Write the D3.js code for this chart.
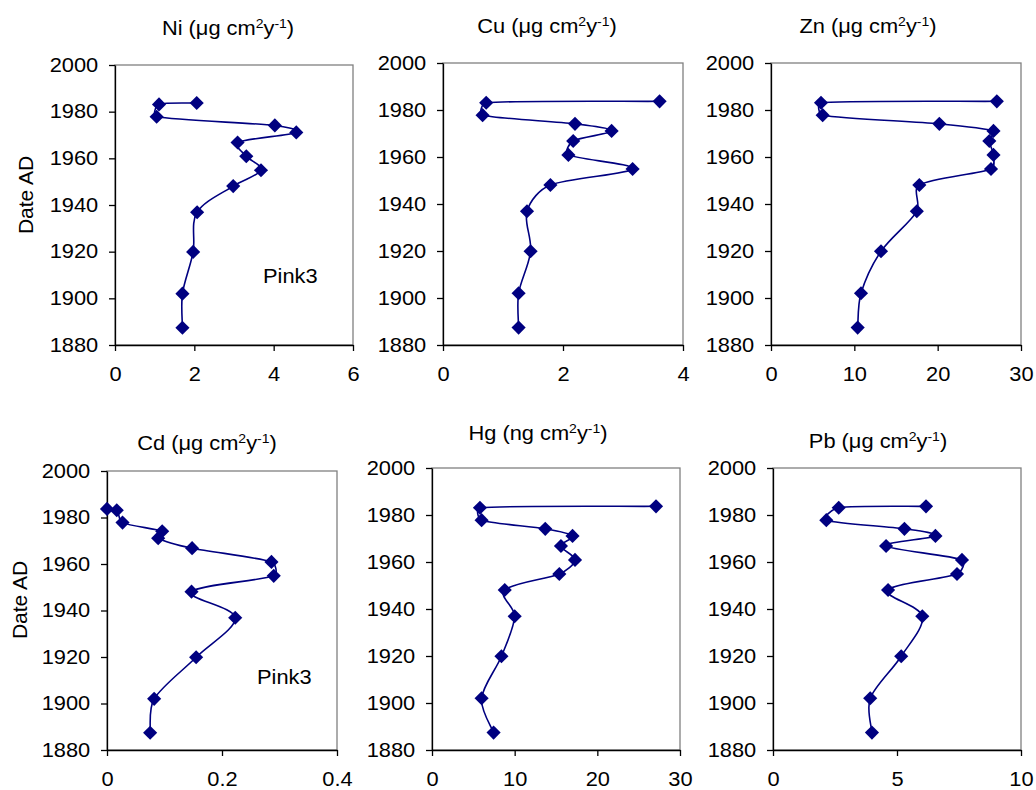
<!DOCTYPE html>
<html lang="en">
<head>
  <meta charset="UTF-8">
  <title>Pink3 metal flux profiles</title>
  <script src="https://d3js.org/d3.v7.min.js"></script>
  <style>
    body {
      margin: 0;
      background: white;
      font-family: Arial, "Liberation Sans", sans-serif;
    }
    text {
      fill: #000;
    }
  </style>
</head>
<body>
  <svg width="1036" height="790"></svg>

  <script>
    // core dates (same slices for every element)
    const dates = [1983.7, 1983.1, 1977.8, 1974.1, 1971.1, 1966.8, 1960.9, 1954.9, 1948.1, 1936.9, 1919.9, 1902.0, 1887.4];

    // fluxes, top of core first
    const ni = [2.06, 1.11, 1.05, 4.03, 4.57, 3.09, 3.31, 3.68, 2.98, 2.07, 1.97, 1.70, 1.70];
    const cu = [3.61, 0.72, 0.66, 2.20, 2.81, 2.17, 2.09, 3.16, 1.79, 1.40, 1.46, 1.26, 1.26];
    const zn = [27.1, 6.0, 6.2, 20.2, 26.7, 26.2, 26.7, 26.4, 17.8, 17.5, 13.2, 10.8, 10.4];
    const cd = [0.0, 0.017, 0.027, 0.096, 0.089, 0.148, 0.286, 0.290, 0.147, 0.223, 0.155, 0.082, 0.075];
    const hg = [27.1, 5.8, 6.0, 13.7, 17.0, 15.6, 17.3, 15.4, 8.8, 10.0, 8.4, 6.0, 7.45];
    const pb = [6.17, 2.65, 2.15, 5.30, 6.55, 4.56, 7.62, 7.42, 4.64, 6.02, 5.17, 3.92, 3.99];

    const yTicks = [1880, 1900, 1920, 1940, 1960, 1980, 2000];

    const panels = [
      {el: "Ni", unit: "\u03bcg", values: ni, xMax: 6, xTicks: [0, 2, 4, 6],
       box: [115, 353, 65, 345], title: [228, 35], dateLabel: [33, 195], pink: [263, 283]},
      {el: "Cu", unit: "\u03bcg", values: cu, xMax: 4, xTicks: [0, 2, 4],
       box: [443, 683, 63, 345], title: [547, 33]},
      {el: "Zn", unit: "\u03bcg", values: zn, xMax: 30, xTicks: [0, 10, 20, 30],
       box: [771, 1021, 63, 345], title: [868, 33]},
      {el: "Cd", unit: "\u03bcg", values: cd, xMax: 0.4, xTicks: [0, 0.2, 0.4],
       box: [107, 337, 471, 750], title: [207, 450], dateLabel: [27, 600], pink: [257, 684]},
      {el: "Hg", unit: "ng", values: hg, xMax: 30, xTicks: [0, 10, 20, 30],
       box: [432, 680, 468, 750], title: [538, 440]},
      {el: "Pb", unit: "\u03bcg", values: pb, xMax: 10, xTicks: [0, 5, 10],
       box: [773, 1021, 468, 750], title: [878, 448]}
    ];

    // spreadsheet-style smoothing: catmull-rom tangents, but each handle
    // capped at a third of its segment so short steps don't loop
    function SegmentSmooth(context) { this._context = context; }
    SegmentSmooth.prototype = {
      areaStart() { this._line = 0; },
      areaEnd() { this._line = NaN; },
      lineStart() { this._pts = []; },
      point(x, y) { this._pts.push([+x, +y]); },
      lineEnd() {
        const pts = this._pts, ctx = this._context;
        if (!pts.length) return;
        const handle = (a, b, cap) => {
          let dx = (b[0] - a[0]) / 6, dy = (b[1] - a[1]) / 6;
          const l = Math.hypot(dx, dy);
          if (l > cap) { dx *= cap / l; dy *= cap / l; }
          return [dx, dy];
        };
        ctx.moveTo(pts[0][0], pts[0][1]);
        for (let i = 0; i < pts.length - 1; i++) {
          const a = pts[i], b = pts[i + 1];
          const prev = pts[i - 1] || a, next = pts[i + 2] || b;
          const cap = Math.hypot(b[0] - a[0], b[1] - a[1]) / 3;
          const t1 = handle(prev, b, cap), t2 = handle(a, next, cap);
          ctx.bezierCurveTo(a[0] + t1[0], a[1] + t1[1],
                            b[0] - t2[0], b[1] - t2[1],
                            b[0], b[1]);
        }
      }
    };
    const curveSegmentSmooth = context => new SegmentSmooth(context);

    const svg = d3.select("svg");
    const navy = "#000080";
    const fontSize = 19.5;
    const sx = 1.12; // reference text looks a little wide

    const marker = d3.symbol().type(d3.symbolSquare).size(100)();

    panels.forEach(p => {
      const [x0, x1, y0, y1] = p.box;
      const x = d3.scaleLinear().domain([0, p.xMax]).range([x0, x1]);
      const y = d3.scaleLinear().domain([1880, 2000]).range([y1, y0]);
      const rows = dates.map((d, i) => ({date: d, value: p.values[i]}));

      // plot area frame (grey), axes drawn over it
      svg.append("rect")
        .attr("x", x0).attr("y", y0)
        .attr("width", x1 - x0).attr("height", y1 - y0)
        .attr("fill", "none")
        .attr("stroke", "#808080")
        .attr("stroke-width", 1.3);

      const yAxis = svg.append("g")
        .attr("transform", `translate(${x0},0)`)
        .call(d3.axisLeft(y).tickValues(yTicks).tickSize(6).tickSizeOuter(0)
          .tickPadding(9).tickFormat(d3.format("d")));

      const xAxis = svg.append("g")
        .attr("transform", `translate(0,${y1})`)
        .call(d3.axisBottom(x).tickValues(p.xTicks).tickSize(6).tickSizeOuter(0)
          .tickPadding(16).tickFormat(d => String(d)));

      [yAxis, xAxis].forEach(a => {
        a.attr("font-family", null).attr("font-size", null);
        a.selectAll("path, line").attr("stroke", "#000").attr("stroke-width", 1.3);
        a.selectAll("text")
          .style("font-size", fontSize + "px")
          .attr("transform", `scale(${sx},1)`);
      });

      const line = d3.line()
        .x(d => x(d.value))
        .y(d => y(d.date))
        .curve(curveSegmentSmooth);

      svg.append("path")
        .datum(rows)
        .attr("fill", "none")
        .attr("stroke", navy)
        .attr("stroke-width", 1.6)
        .attr("d", line);

      svg.selectAll(null)
        .data(rows)
        .enter()
        .append("path")
        .attr("d", marker)
        .attr("fill", navy)
        .attr("transform", d => `translate(${x(d.value)},${y(d.date)}) rotate(45)`);

      // title with superscripts
      const t = svg.append("text")
        .attr("transform", `translate(${p.title[0]},${p.title[1]}) scale(${sx},1)`)
        .attr("text-anchor", "middle")
        .style("font-size", fontSize + "px");
      t.append("tspan").text(`${p.el} (${p.unit} cm`);
      t.append("tspan").attr("dy", -7).style("font-size", "12.5px").text("2");
      t.append("tspan").attr("dy", 7).text("y");
      t.append("tspan").attr("dy", -7).style("font-size", "12.5px").text("-1");
      t.append("tspan").attr("dy", 7).text(")");

      if (p.dateLabel) {
        svg.append("text")
          .attr("transform", `translate(${p.dateLabel[0]},${p.dateLabel[1]}) rotate(-90)`)
          .attr("text-anchor", "middle")
          .style("font-size", "21px")
          .text("Date AD");
      }

      if (p.pink) {
        svg.append("text")
          .attr("transform", `translate(${p.pink[0]},${p.pink[1]}) scale(${sx},1)`)
          .style("font-size", fontSize + "px")
          .text("Pink3");
      }
    });
  </script>
</body>
</html>
